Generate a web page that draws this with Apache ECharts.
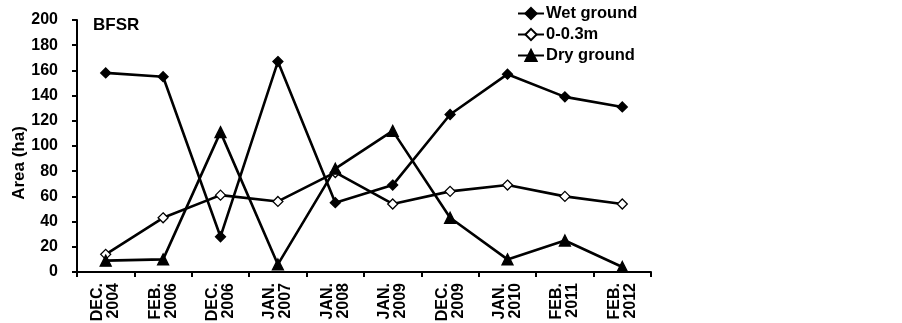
<!DOCTYPE html>
<html><head><meta charset="utf-8">
<script src="https://cdn.jsdelivr.net/npm/echarts@6/dist/echarts.min.js"></script>
<style>html,body{margin:0;padding:0;background:#fff}#c{width:902px;height:323px}</style>
</head><body><div id="c"></div>
<script>
var categories = ['DEC.\n2004','FEB.\n2006','DEC.\n2006','JAN.\n2007','JAN.\n2008','JAN.\n2009','DEC.\n2009','JAN.\n2010','FEB.\n2011','FEB.\n2012'];
var wetGround = [158, 155, 28, 167, 55, 69, 125, 157, 139, 131];
var shallow = [14, 43, 61, 56, 79, 54, 64, 69, 60, 54];
var dryGround = [9, 10, 111, 6, 82, 112, 43, 10, 25, 4];
var yTicks = [0, 20, 40, 60, 80, 100, 120, 140, 160, 180, 200];

var F = 'Liberation Sans, Arial, sans-serif';
var chart = echarts.init(document.getElementById('c'));
function ser(name, data, symbol, size, fill) {
  return {
    name: name, type: 'line', data: data, symbol: symbol, symbolSize: size,
    showAllSymbol: true,
    lineStyle: {color: '#000', width: 2.6},
    itemStyle: {color: fill, borderColor: '#000', borderWidth: 1.3},
    emphasis: {disabled: true}, animation: false
  };
}
chart.setOption({
  animation: false,
  grid: {left: 77, right: 251, top: 20, bottom: 51, containLabel: false, outerBoundsMode: 'none'},
  title: {text: 'BFSR', left: 93, top: 17, padding: 0, textStyle: {fontFamily: F, fontWeight: 'bold', fontSize: 17, color: '#000'}},
  legend: {
    orient: 'vertical', left: 517, top: 5, padding: 0, itemGap: 4, itemWidth: 26, itemHeight: 14,
    textStyle: {fontFamily: F, fontWeight: 'bold', fontSize: 16.5, lineHeight: 17, color: '#000', padding: [0,0,0,-3]},
    data: ['Wet ground', '0-0.3m', 'Dry ground']
  },
  xAxis: {
    type: 'category', data: categories, boundaryGap: true,
    axisLine: {lineStyle: {color: '#000', width: 2}},
    axisTick: {show: true, alignWithLabel: false, length: 5, lineStyle: {color: '#000', width: 2}},
    axisLabel: {rotate: 90, interval: 0, fontFamily: F, fontWeight: 'bold', fontSize: 16, color: '#000', lineHeight: 16, margin: 11}
  },
  yAxis: {
    type: 'value', min: yTicks[0], max: yTicks[yTicks.length-1], interval: 20,
    name: 'Area (ha)', nameLocation: 'middle', nameGap: 49, nameRotate: 90, nameMoveOverlap: false,
    nameTextStyle: {fontFamily: F, fontWeight: 'bold', fontSize: 17, color: '#000', padding: [0, 34, 0, 0]},
    splitLine: {show: false},
    axisLine: {show: true, lineStyle: {color: '#000', width: 2}},
    axisTick: {show: true, length: 5, lineStyle: {color: '#000', width: 2}},
    axisLabel: {fontFamily: F, fontWeight: 'bold', fontSize: 16, color: '#000', margin: 19}
  },
  series: [
    ser('Wet ground', wetGround, 'diamond', 10, '#000'),
    ser('0-0.3m', shallow, 'diamond', 10, '#fff'),
    ser('Dry ground', dryGround, 'triangle', 11, '#000')
  ]
});
</script></body></html>
